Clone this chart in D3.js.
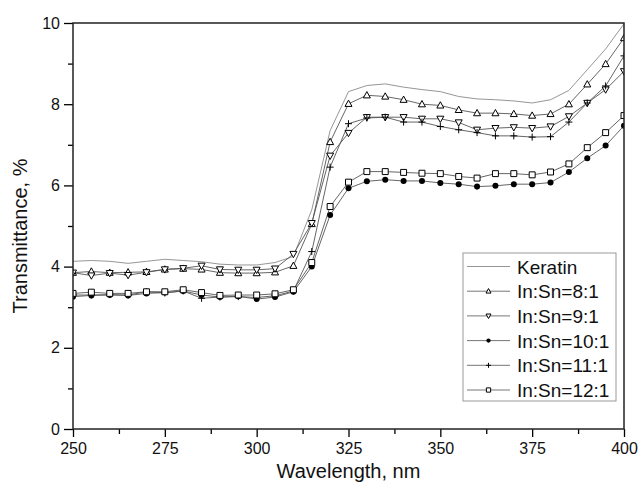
<!DOCTYPE html>
<html>
<head>
<meta charset="utf-8">
<script src="https://cdn.jsdelivr.net/npm/d3@7"></script>
<style>
  body { margin: 0; background: #fff; }
  svg { display: block; font-family: "Liberation Sans", Arial, sans-serif; }
</style>
</head>
<body>
<svg></svg>
<script>
// wavelength, nm
let wavelengths = [250, 255, 260, 265, 270, 275, 280, 285, 290, 295, 300, 305, 310, 315, 320,
                   325, 330, 335, 340, 345, 350, 355, 360, 365, 370, 375, 380, 385, 390, 395, 400]

// transmittance, %
let keratin = [4.13, 4.15, 4.13, 4.08, 4.13, 4.18, 4.15, 4.12, 4.06, 4.04, 4.04, 4.10, 4.25, 5.40, 7.35,
               8.31, 8.46, 8.50, 8.42, 8.36, 8.31, 8.19, 8.13, 8.11, 8.08, 8.03, 8.11, 8.34, 8.85, 9.36, 9.98]
let ratio8 = [3.85, 3.88, 3.85, 3.86, 3.87, 3.93, 3.95, 3.93, 3.85, 3.84, 3.84, 3.86, 4.02, 5.05, 7.07,
              8.01, 8.22, 8.19, 8.11, 8.00, 7.97, 7.86, 7.78, 7.78, 7.76, 7.72, 7.76, 8.00, 8.49, 8.99, 9.63]
let ratio9 = [3.85, 3.78, 3.84, 3.79, 3.86, 3.93, 3.96, 4.02, 3.93, 3.92, 3.92, 3.95, 4.31, 5.07, 6.73,
              7.29, 7.68, 7.68, 7.68, 7.64, 7.64, 7.55, 7.37, 7.41, 7.43, 7.41, 7.45, 7.70, 8.03, 8.36, 8.81]
let ratio10 = [3.26, 3.29, 3.30, 3.29, 3.34, 3.36, 3.40, 3.30, 3.25, 3.27, 3.20, 3.25, 3.38, 4.00, 5.27,
               5.93, 6.10, 6.14, 6.11, 6.11, 6.06, 6.03, 5.97, 5.99, 6.03, 6.03, 6.07, 6.33, 6.67, 6.98, 7.47]
let ratio11 = [3.30, 3.30, 3.31, 3.30, 3.38, 3.35, 3.40, 3.22, 3.25, 3.26, 3.24, 3.28, 3.40, 4.37, 6.45,
               7.52, 7.66, 7.68, 7.56, 7.56, 7.45, 7.37, 7.30, 7.22, 7.22, 7.19, 7.20, 7.56, 8.03, 8.45, 9.19]
let ratio12 = [3.34, 3.37, 3.34, 3.34, 3.38, 3.38, 3.43, 3.36, 3.29, 3.30, 3.30, 3.33, 3.43, 4.10, 5.48,
               6.08, 6.34, 6.34, 6.32, 6.30, 6.29, 6.22, 6.18, 6.29, 6.29, 6.26, 6.33, 6.53, 6.93, 7.30, 7.72]

let seriesNames = ['Keratin', 'In:Sn=8:1', 'In:Sn=9:1', 'In:Sn=10:1', 'In:Sn=11:1', 'In:Sn=12:1']
let seriesValues = [keratin, ratio8, ratio9, ratio10, ratio11, ratio12]
let seriesMarkers = ['none', 'up', 'down', 'circle', 'plus', 'square']

let xTicks = [250, 275, 300, 325, 350, 375, 400]
let yTicks = [0, 2, 4, 6, 8, 10]

let w = 639
let h = 491
let margin = {top: 23, right: 15, bottom: 62, left: 73}

let svg = d3.select('svg').attr('width', w).attr('height', h)

let xScale = d3.scaleLinear().domain([250, 400]).range([margin.left, w - margin.right])
let yScale = d3.scaleLinear().domain([0, 10]).range([h - margin.bottom, margin.top])

// marker path around (0,0)
let markerPath = (type, s) => {
    let r = s / 2
    if (type === 'up') return `M0,${-r * 1.05}L${r},${r * 0.75}L${-r},${r * 0.75}Z`
    if (type === 'down') return `M0,${r * 1.05}L${r},${-r * 0.75}L${-r},${-r * 0.75}Z`
    if (type === 'square') return `M${-r * 0.85},${-r * 0.85}h${r * 1.7}v${r * 1.7}h${-r * 1.7}Z`
    if (type === 'plus') return `M${-r},0H${r}M0,${-r}V${r}`
    return ''
}

let drawMarker = (g, type, s) => {
    if (type === 'none') return
    if (type === 'circle') {
        g.append('circle').attr('r', s * 0.43).attr('fill', '#000')
    } else {
        g.append('path').attr('d', markerPath(type, s))
            .attr('fill', type === 'plus' ? 'none' : '#fff')
            .attr('stroke', '#000').attr('stroke-width', 1)
    }
}

svg.append('clipPath').attr('id', 'plot-clip')
    .append('rect')
    .attr('x', margin.left).attr('y', margin.top)
    .attr('width', w - margin.left - margin.right)
    .attr('height', h - margin.top - margin.bottom)

let plot = svg.append('g').attr('clip-path', 'url(#plot-clip)')

let line = d3.line()
    .x((d, i) => xScale(wavelengths[i]))
    .y(d => yScale(d))

seriesValues.forEach((vals, k) => {
    plot.append('path')
        .datum(vals)
        .attr('d', line)
        .attr('fill', 'none')
        .attr('stroke', k === 0 ? '#8a8a8a' : '#555')
        .attr('stroke-width', 0.9)
})

seriesValues.forEach((vals, k) => {
    if (seriesMarkers[k] === 'none') return
    vals.forEach((v, i) => {
        let g = plot.append('g')
            .attr('transform', `translate(${xScale(wavelengths[i])},${yScale(v)})`)
        drawMarker(g, seriesMarkers[k], 7)
    })
})

// axes
let xAxis = d3.axisBottom(xScale).tickValues(xTicks).tickSize(8).tickPadding(6).tickFormat(d3.format('d'))
let yAxis = d3.axisLeft(yScale).tickValues(yTicks).tickSize(9).tickPadding(4).tickFormat(d3.format('d'))
let xMinor = d3.axisBottom(xScale).tickValues(d3.range(262.5, 400, 25)).tickSize(5).tickFormat('')
let yMinor = d3.axisLeft(yScale).tickValues([1, 3, 5, 7, 9]).tickSize(5).tickFormat('')

let styleAxis = (g) => {
    g.select('.domain').remove()
    g.selectAll('line').attr('stroke', '#000').attr('stroke-width', 1.3)
    g.selectAll('text').attr('font-size', 16).attr('fill', '#111')
        .attr('font-family', '"Liberation Sans", Arial, sans-serif')
}

svg.append('g').attr('transform', `translate(0,${h - margin.bottom})`).call(xAxis).call(styleAxis)
svg.append('g').attr('transform', `translate(0,${h - margin.bottom})`).call(xMinor).call(styleAxis)
svg.append('g').attr('transform', `translate(${margin.left},0)`).call(yAxis).call(styleAxis)
svg.append('g').attr('transform', `translate(${margin.left},0)`).call(yMinor).call(styleAxis)

// frame
svg.append('rect')
    .attr('x', margin.left).attr('y', margin.top)
    .attr('width', w - margin.left - margin.right)
    .attr('height', h - margin.top - margin.bottom)
    .attr('fill', 'none').attr('stroke', '#222').attr('stroke-width', 1.5)

// axis titles
svg.append('text')
    .attr('x', (margin.left + w - margin.right) / 2)
    .attr('y', 478)
    .attr('text-anchor', 'middle')
    .attr('font-size', 20).attr('fill', '#111')
    .text('Wavelength, nm')

svg.append('text')
    .attr('transform', 'translate(27,236) rotate(-90)')
    .attr('text-anchor', 'middle')
    .attr('font-size', 20).attr('fill', '#111')
    .text('Transmittance, %')

// legend
let legend = svg.append('g').attr('transform', 'translate(463,253)')
legend.append('rect')
    .attr('width', 153).attr('height', 148)
    .attr('fill', '#fff').attr('stroke', '#999').attr('stroke-width', 1)

seriesNames.forEach((name, k) => {
    let y = 13.5 + k * 24.7
    legend.append('line')
        .attr('x1', 4).attr('x2', 47).attr('y1', y).attr('y2', y)
        .attr('stroke', k === 0 ? '#8a8a8a' : '#666').attr('stroke-width', 0.9)
    let g = legend.append('g').attr('transform', `translate(25.5,${y})`)
    drawMarker(g, seriesMarkers[k], 5)
    legend.append('text')
        .attr('x', 54).attr('y', y + 7)
        .attr('font-size', 19).attr('fill', '#111')
        .text(name)
})
</script>
</body>
</html>
